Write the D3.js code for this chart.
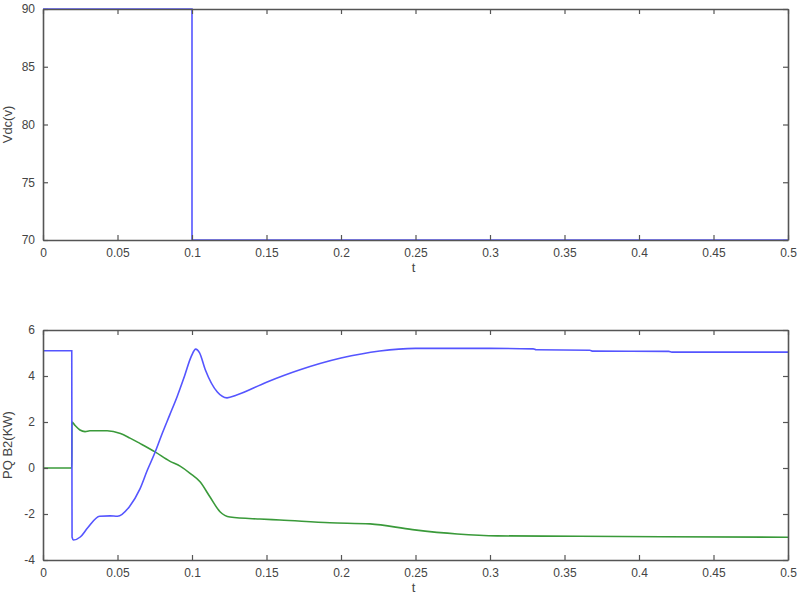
<!DOCTYPE html>
<html>
  <head>
    <meta charset="utf-8">
    <title>Vdc and PQ B2</title>
    <script src="https://d3js.org/d3.v7.min.js"></script>
    <style>
      body { margin: 0; background: #fff; }
      svg { display: block; }
      .tick text { font-family: "Liberation Sans", Arial, sans-serif; font-size: 12px; fill: #444; }
      .lbl { font-family: "Liberation Sans", Arial, sans-serif; font-size: 13px; fill: #444; }
    </style>
  </head>
  <body>
    <svg id="chart" width="800" height="600"></svg>
    <script>
      // data
      var xTicks = [0, 0.05, 0.1, 0.15, 0.2, 0.25, 0.3, 0.35, 0.4, 0.45, 0.5];
      var vdcTicks = [70, 75, 80, 85, 90];
      var pqTicks = [-4, -2, 0, 2, 4, 6];

      var vdcT = [0, 0.1, 0.1, 0.5];
      var vdcV = [90, 90, 70, 70];

      var pT = [0, 0.0193, 0.0195, 0.0205, 0.025, 0.03, 0.038, 0.045, 0.05, 0.058, 0.065, 0.07, 0.075,
                0.08, 0.085, 0.09, 0.095, 0.0995, 0.1025, 0.105, 0.109, 0.117, 0.1235, 0.13, 0.15, 0.172, 0.2,
                0.226, 0.25, 0.3, 0.329, 0.331, 0.367, 0.369, 0.42, 0.422, 0.5];
      var pV = [5.1, 5.1, -3.0, -3.13, -3.0, -2.6, -2.1, -2.08, -2.1, -1.68, -0.92, -0.1, 0.65,
                1.5, 2.3, 3.1, 4.0, 4.85, 5.17, 5.02, 4.26, 3.3, 3.05, 3.17, 3.73, 4.26, 4.78,
                5.09, 5.2, 5.2, 5.18, 5.14, 5.12, 5.08, 5.07, 5.04, 5.04];

      var qT = [0, 0.0193, 0.0194, 0.0215, 0.0248, 0.0282, 0.0315, 0.043, 0.052, 0.0584, 0.065, 0.0752,
                0.085, 0.092, 0.0987, 0.1054, 0.112, 0.1188, 0.1255, 0.1456, 0.159, 0.1926, 0.2195,
                0.248, 0.278, 0.305, 0.36, 0.5];
      var qV = [0, 0, 2.0, 1.85, 1.65, 1.58, 1.62, 1.62, 1.5, 1.3, 1.07, 0.7,
                0.3, 0.08, -0.23, -0.6, -1.25, -1.9, -2.13, -2.22, -2.26, -2.38, -2.43,
                -2.68, -2.87, -2.95, -2.97, -3.01];

      var svg = d3.select("#chart");
      var left = 43, right = 788;
      var fmt = function(d) { return String(d); };

      var x = d3.scaleLinear().domain([0, 0.5]).range([left, right]);

      // draws one panel: box with inward ticks on all sides
      function panel(top, bottom, yDomain, yTicks, yLabel, series) {
        var y = d3.scaleLinear().domain(yDomain).range([bottom, top]);
        var g = svg.append("g");

        var line = d3.line()
          .curve(d3.curveMonotoneX)
          .x(function(d) { return x(d[0]); })
          .y(function(d) { return y(d[1]); });

        series.forEach(function(s) {
          g.append("path")
            .datum(d3.zip(s.t, s.v))
            .attr("d", line)
            .attr("fill", "none")
            .attr("stroke", s.color)
            .attr("stroke-width", 1.6);
        });

        var axes = [
          { a: d3.axisBottom(x).tickValues(xTicks).tickFormat(fmt), tr: "translate(0," + bottom + ")", labels: true, pad: 8 },
          { a: d3.axisTop(x).tickValues(xTicks), tr: "translate(0," + top + ")", labels: false, pad: 0 },
          { a: d3.axisLeft(y).tickValues(yTicks).tickFormat(fmt), tr: "translate(" + left + ",0)", labels: true, pad: 8 },
          { a: d3.axisRight(y).tickValues(yTicks), tr: "translate(" + right + ",0)", labels: false, pad: 0 }
        ];
        axes.forEach(function(ax) {
          var ag = g.append("g")
            .attr("transform", ax.tr)
            .call(ax.a.tickSizeInner(-5).tickSizeOuter(0).tickPadding(ax.pad));
          ag.select(".domain").attr("stroke", "#555").attr("stroke-width", 1.6);
          ag.selectAll(".tick line").attr("stroke", "#555").attr("stroke-width", 1.2);
          if (!ax.labels) ag.selectAll(".tick text").remove();
        });

        g.append("text")
          .attr("class", "lbl")
          .attr("x", (left + right) / 2 - 2)
          .attr("y", bottom + 32)
          .attr("text-anchor", "middle")
          .text("t");

        g.append("text")
          .attr("class", "lbl")
          .attr("transform", "translate(12," + ((top + bottom) / 2) + ") rotate(-90)")
          .attr("text-anchor", "middle")
          .text(yLabel);
      }

      panel(9, 240, [70, 90], vdcTicks, "Vdc(v)", [
        { t: vdcT, v: vdcV, color: "#5555ff" }
      ]);

      panel(330, 560, [-4, 6], pqTicks, "PQ B2(KW)", [
        { t: qT, v: qV, color: "#3a9a3a" },
        { t: pT, v: pV, color: "#5555ff" }
      ]);
    </script>
  </body>
</html>
